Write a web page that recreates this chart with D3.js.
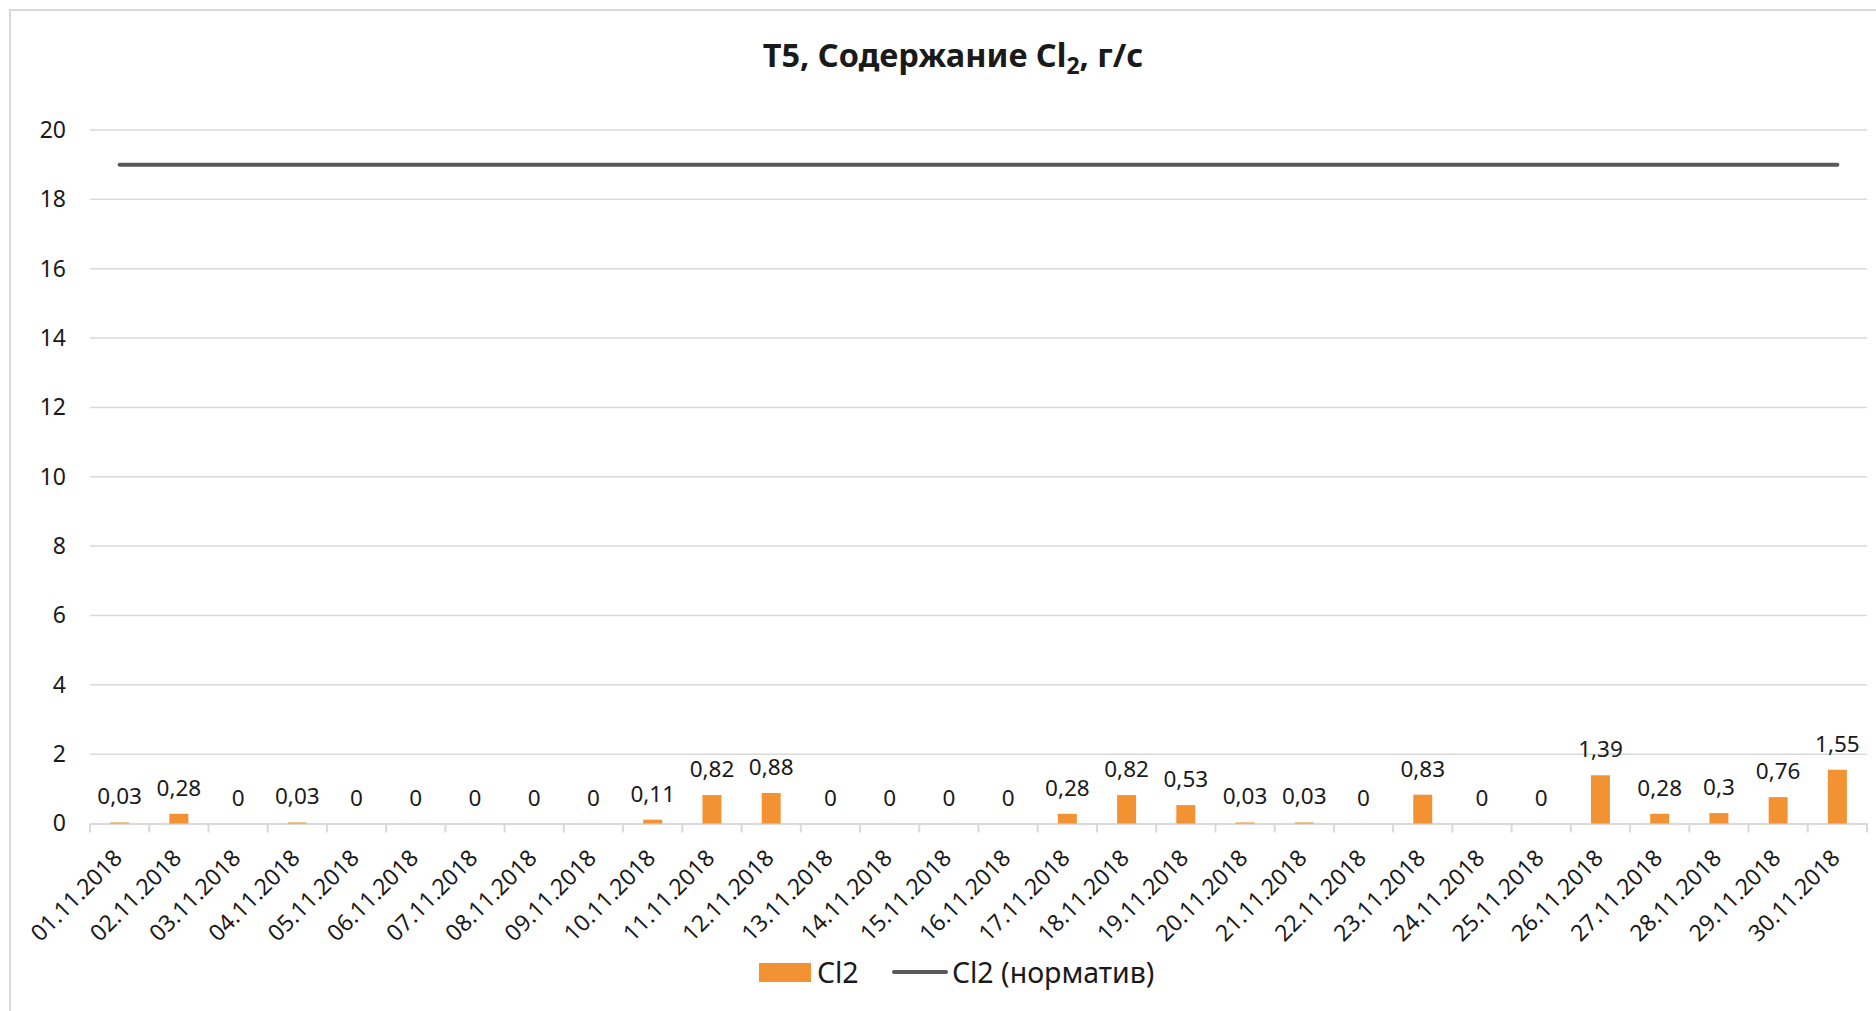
<!DOCTYPE html>
<html>
<head>
<meta charset="utf-8">
<script src="https://cdn.jsdelivr.net/npm/d3@7"></script>
<style>
  body { margin: 0; background: #fff; }
  text { font-family: "Noto Sans", sans-serif; fill: #1a1a1a; }
</style>
</head>
<body>
<div id="chart"></div>
<script>
// data
var dates = ["01.11.2018","02.11.2018","03.11.2018","04.11.2018","05.11.2018","06.11.2018",
  "07.11.2018","08.11.2018","09.11.2018","10.11.2018","11.11.2018","12.11.2018","13.11.2018",
  "14.11.2018","15.11.2018","16.11.2018","17.11.2018","18.11.2018","19.11.2018","20.11.2018",
  "21.11.2018","22.11.2018","23.11.2018","24.11.2018","25.11.2018","26.11.2018","27.11.2018",
  "28.11.2018","29.11.2018","30.11.2018"];
var cl2 = [0.03,0.28,0,0.03,0,0,0,0,0,0.11,0.82,0.88,0,0,0,0,0.28,0.82,0.53,0.03,0.03,0,0.83,0,0,1.39,0.28,0.3,0.76,1.55];
var norm = [19,19,19,19,19,19,19,19,19,19,19,19,19,19,19,19,19,19,19,19,19,19,19,19,19,19,19,19,19,19];
var yTicks = [0,2,4,6,8,10,12,14,16,18,20];
var seriesNames = ["Cl2", "Cl2 (норматив)"];

var W = 1876, H = 1011;
var margin = {top: 130, left: 90, right: 9, bottom: 187.5};
var width = W - margin.left - margin.right;
var height = H - margin.top - margin.bottom;

var svg = d3.select("#chart").append("svg")
  .attr("width", W)
  .attr("height", H);

// chart frame
svg.append("rect")
  .attr("x", 10).attr("y", 10)
  .attr("width", W + 20).attr("height", H + 20)
  .attr("fill", "none")
  .attr("stroke", "#d9d9d9")
  .attr("stroke-width", 2);

// title
var title = svg.append("text")
  .attr("x", 953).attr("y", 67)
  .attr("text-anchor", "middle")
  .style("font-size", "32.5px")
  .style("font-weight", "bold");
title.append("tspan").text("T5, Содержание Cl");
title.append("tspan").attr("dy", 7).style("font-size", "23px").text("2");
title.append("tspan").attr("dy", -7).text(", г/с");

var g = svg.append("g")
  .attr("transform", "translate(" + margin.left + "," + margin.top + ")");

var x = d3.scaleBand()
  .domain(dates)
  .range([0, width]);

var y = d3.scaleLinear()
  .domain([0, 20])
  .range([height, 0]);

// gridlines
g.selectAll(".grid")
  .data(yTicks.filter(d => d > 0))
  .enter().append("line")
  .attr("class", "grid")
  .attr("x1", 0).attr("x2", width)
  .attr("y1", d => y(d)).attr("y2", d => y(d))
  .attr("stroke", "#d9d9d9")
  .attr("stroke-width", 1.5);

// y axis labels
var yAxis = g.append("g")
  .call(d3.axisLeft(y).tickValues(yTicks).tickSize(0).tickPadding(24));
yAxis.select(".domain").remove();
yAxis.selectAll("text")
  .style("font-size", "23px")
  .style("font-family", "'Noto Sans', sans-serif")
  .attr("fill", "#1a1a1a");

// x axis
var xAxis = g.append("g")
  .attr("transform", "translate(0," + height + ")")
  .call(d3.axisBottom(x).tickSize(0).tickFormat(""));
xAxis.select(".domain").attr("stroke", "#d9d9d9").attr("stroke-width", 2);
xAxis.selectAll(".tick").remove();

var bounds = dates.map(d => x(d)).concat([width]);
xAxis.selectAll(".bound")
  .data(bounds)
  .enter().append("line")
  .attr("class", "bound")
  .attr("x1", d => d).attr("x2", d => d)
  .attr("y1", 0).attr("y2", 9)
  .attr("stroke", "#d9d9d9")
  .attr("stroke-width", 2);

xAxis.selectAll(".xlab")
  .data(dates)
  .enter().append("text")
  .attr("class", "xlab")
  .attr("text-anchor", "end")
  .attr("transform", d => "translate(" + (x(d) + x.bandwidth() / 2 + 4) + "," + 36 + ") rotate(-45)")
  .style("font-size", "23px")
  .text(d => d);

// bars
var barW = x.bandwidth() * 0.32;
g.selectAll(".bar")
  .data(cl2)
  .enter().append("rect")
  .attr("class", "bar")
  .attr("x", (d, i) => x(dates[i]) + x.bandwidth() / 2 - barW / 2)
  .attr("y", d => y(d))
  .attr("width", barW)
  .attr("height", d => height - y(d))
  .attr("fill", "#f39232");

// norm line
var line = d3.line()
  .x((d, i) => x(dates[i]) + x.bandwidth() / 2)
  .y(d => y(d));

g.append("path")
  .datum(norm)
  .attr("d", line)
  .attr("fill", "none")
  .attr("stroke", "#595959")
  .attr("stroke-width", 4)
  .attr("stroke-linecap", "round");

// data labels
g.selectAll(".dlab")
  .data(cl2)
  .enter().append("text")
  .attr("class", "dlab")
  .attr("text-anchor", "middle")
  .attr("x", (d, i) => x(dates[i]) + x.bandwidth() / 2)
  .attr("y", d => y(d) - 18)
  .style("font-size", "22.5px")
  .text(d => String(d).replace(".", ","));

// legend
var leg = svg.append("g");
leg.append("rect")
  .attr("x", 759).attr("y", 963)
  .attr("width", 52).attr("height", 19)
  .attr("fill", "#f39232");
leg.append("text")
  .attr("x", 817).attr("y", 983)
  .style("font-size", "28.5px")
  .text(seriesNames[0]);
leg.append("line")
  .attr("x1", 894).attr("x2", 946)
  .attr("y1", 972).attr("y2", 972)
  .attr("stroke", "#595959")
  .attr("stroke-width", 4)
  .attr("stroke-linecap", "round");
leg.append("text")
  .attr("x", 952).attr("y", 983)
  .style("font-size", "28.5px")
  .text(seriesNames[1]);
</script>
</body>
</html>
